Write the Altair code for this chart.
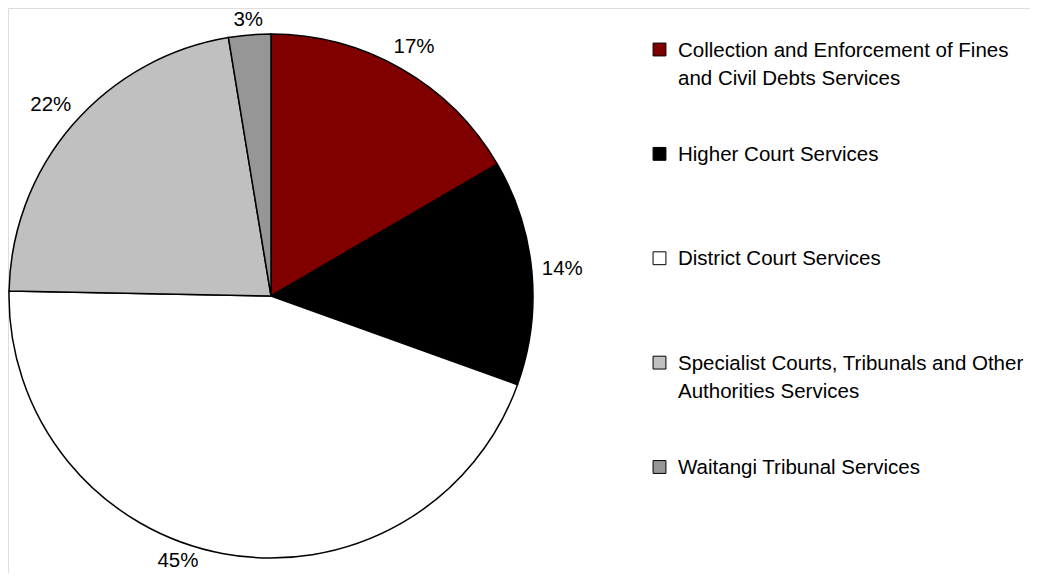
import altair as alt
import pandas as pd

categories = [
    "Collection and Enforcement of Fines and Civil Debts Services",
    "Higher Court Services",
    "District Court Services",
    "Specialist Courts, Tribunals and Other Authorities Services",
    "Waitangi Tribunal Services",
]
legend_text = [
    "Collection and Enforcement of Fines\nand Civil Debts Services",
    "Higher Court Services",
    "District Court Services",
    "Specialist Courts, Tribunals and Other\nAuthorities Services",
    "Waitangi Tribunal Services",
]
values = [16.6, 13.9, 44.8, 22.1, 2.6]
pct_labels = ["17%", "14%", "45%", "22%", "3%"]
colors = ["#800000", "#000000", "#FFFFFF", "#C0C0C0", "#969696"]

FONT = "Liberation Sans, Arial, sans-serif"
FS = 20.5

df = pd.DataFrame({
    "idx": list(range(len(categories))),
    "category": categories,
    "value": values,
    "label": pct_labels,
    "legend": legend_text,
})

CX, CY, R = 263, 288, 262
YMIN, YMAX = 12, 553

color_scale = alt.Scale(domain=categories, range=colors)

pie = alt.Chart(df).mark_arc(radius=R, stroke="black", strokeWidth=1.5, opacity=1).encode(
    theta=alt.Theta("value:Q", stack=True),
    order=alt.Order("idx:Q"),
    color=alt.Color("category:N", scale=color_scale, legend=None),
    x=alt.value(CX),
    y=alt.value(CY),
)

# outside-end labels: the nearest edge of each label sits a fixed gap outside the pie;
# labels are kept inside the chart area (bottom one slides along its circle)
pct = alt.Chart(df).transform_window(
    cum="sum(value)", sort=[alt.SortField("idx")], frame=[None, 0]
).transform_joinaggregate(
    total="sum(value)"
).transform_calculate(
    mid="2*PI*(datum.cum - datum.value/2)/datum.total"
).transform_calculate(
    r=f"{R + 8} + 22*abs(sin(datum.mid)) + 7*abs(cos(datum.mid))"
).transform_calculate(
    ly0=f"{CY} - datum.r*cos(datum.mid)"
).transform_calculate(
    ly=f"clamp(datum.ly0, {YMIN}, {YMAX})"
).transform_calculate(
    lx=(f"datum.ly0 > {YMAX} ? "
        f"{CX} + (sin(datum.mid) < 0 ? -1 : 1)*sqrt(max(datum.r*datum.r - (datum.ly-{CY})*(datum.ly-{CY}), 0)) : "
        f"{CX} + datum.r*sin(datum.mid)")
).mark_text(fontSize=FS, font=FONT, color="black", align="center", baseline="middle").encode(
    x=alt.X("lx:Q", scale=None, axis=None),
    y=alt.Y("ly:Q", scale=None, axis=None),
    text=alt.Text("label:N"),
)

yscale = alt.Scale(type="point", range=[41.5, 459], padding=0)

squares = alt.Chart(df).mark_square(size=165, stroke="black", strokeWidth=1, opacity=1, filled=True).encode(
    x=alt.value(651.5),
    y=alt.Y("idx:O", scale=yscale, axis=None),
    color=alt.Color("category:N", scale=color_scale, legend=None),
)

leg_text = alt.Chart(df).mark_text(
    align="left", baseline="alphabetic", dy=7, lineBreak="\n", lineHeight=28,
    fontSize=FS, font=FONT, color="black",
).encode(
    x=alt.value(670),
    y=alt.Y("idx:O", scale=yscale, axis=None),
    text=alt.Text("legend:N"),
)

chart = alt.layer(pie, pct, squares, leg_text).resolve_scale(
    x="independent", y="independent"
).properties(
    width=1022, height=565, padding=0, autosize=alt.AutoSizeParams(type="none"),
).configure_view(stroke="transparent", strokeWidth=0).configure(background="white")

chart.save("out.html", embed_options={"renderer": "svg", "actions": False})
